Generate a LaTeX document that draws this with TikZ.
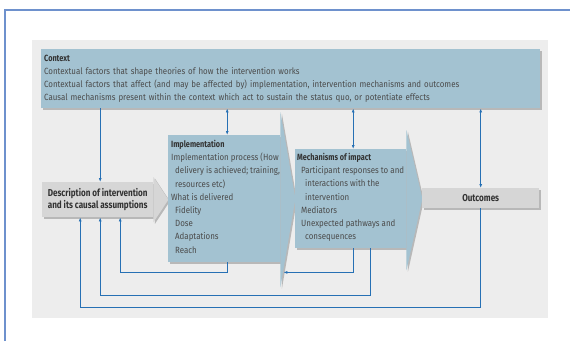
\documentclass[tikz,border=0pt]{standalone}
\usepackage{fontspec}
\setmainfont{Fira Sans}[FakeStretch=0.88, BoldFeatures={FakeStretch=0.81}]
\usepackage{tikz}
\usetikzlibrary{calc,positioning,shadows,arrows.meta}
\definecolor{myblue}{RGB}{163,194,209}
\definecolor{mygrey}{RGB}{214,214,214}
\definecolor{mypanel}{RGB}{237,237,237}
\definecolor{myline}{RGB}{38,112,180}
\definecolor{myframe}{RGB}{110,145,205}
\definecolor{mytext}{RGB}{75,75,75}
\definecolor{myhead}{RGB}{50,50,50}

\begin{document}
\begin{tikzpicture}[
  x=1pt,
  y=-1pt,
  font=\fontsize{9}{13.2}\selectfont,
  myshadow/.style={
    drop shadow={shadow xshift=1.5pt,shadow yshift=-1.5pt,fill=black,opacity=.22}
    },
  mybox/.style={
    fill=#1,
    myshadow,
    inner sep=0pt,
    anchor=north west
    },
  mytxt/.style={
    align=left,
    inner sep=0pt,
    anchor=north west,
    text=mytext
    },
  myarrow/.style={
    draw=myline,
    line width=0.9pt,
    >={Latex[length=4pt,width=3pt]}
    }
]

\useasboundingbox (0,0) rectangle (570,341);
\draw[myframe, line width=1.2pt] (5,341) -- (5,10) -- (570,10);
\fill[mypanel] (32,40) rectangle (548,318);

\node[mybox=myblue, minimum width=499pt, minimum height=59pt,
  text width=493pt, inner xsep=3pt, align=left, text=mytext,
  font=\fontsize{9}{13}\selectfont]
  (context) at (41,49)
  {
  {\bfseries\color{myhead}Context}\\
  Contextual factors that shape theories of how the intervention works\\
  Contextual factors that  affect (and may be affected by) implementation, intervention mechanisms and outcomes\\
  Causal mechanisms present within the context which act to sustain the status quo, or potentiate effects
  };

\node[mybox=mygrey, minimum width=111pt, minimum height=35pt,
  align=center, font=\bfseries, text=myhead]
  (desc) at (42,182)
  {Description of intervention\\and its causal assumptions};
\fill[mygrey, myshadow] (desc.north east) -- ++(0,-5)
  -- ($(desc.east)+(15,0)$) -- ($(desc.south east)+(0,5)$)
  -- (desc.south east) -- cycle;

\node[mybox=myblue, minimum width=112pt, minimum height=127pt]
  (impl) at (168,135) {};
\fill[myblue, myshadow] (impl.north east) -- ++(0,-23)
  -- ($(impl.east)+(15,0)$) -- ($(impl.south east)+(0,25)$)
  -- (impl.south east) -- cycle;
\node[mytxt] (impltext) at ([shift={(3,5)}]impl.north west)
  {
  {\bfseries\color{myhead}Implementation}\\
  Implementation process (How\\
  \hspace*{4pt}delivery is achieved; training,\\
  \hspace*{4pt}resources etc)\\
  What is delivered\\
  \hspace*{4pt}Fidelity\\
  \hspace*{4pt}Dose\\
  \hspace*{4pt}Adaptations\\
  \hspace*{4pt}Reach
  };

\node[mybox=myblue, minimum width=111pt, minimum height=99pt]
  (mech) at (295,149) {};
\fill[myblue, myshadow] (mech.north east) -- ++(0,-19)
  -- ($(mech.east)+(16,0)$) -- ($(mech.south east)+(0,22)$)
  -- (mech.south east) -- cycle;
\node[mytxt] (mechtext) at ([shift={(2,4)}]mech.north west)
  {
  {\bfseries\color{myhead}Mechanisms of impact}\\
  \hspace*{4pt}Participant responses to and\\
  \hspace*{8pt}interactions with the\\
  \hspace*{8pt}intervention\\
  \hspace*{4pt}Mediators\\
  \hspace*{4pt}Unexpected pathways and\\
  \hspace*{8pt}consequences
  };

\node[mybox=mygrey, minimum width=117pt, minimum height=20pt,
  font=\bfseries, text=myhead]
  (outc) at (422,188) {Outcomes};

\draw[myarrow,->] ([xshift=2.5pt]desc.north |- context.south) -- ([xshift=2.5pt]desc.north);
\draw[myarrow,<->] ([xshift=3pt]impl.north |- context.south) -- ([xshift=3pt]impl.north);
\draw[myarrow,<->] ([xshift=2.5pt]mech.north |- context.south) -- ([xshift=2.5pt]mech.north);
\draw[myarrow,<->] (outc.north |- context.south) -- (outc.north);

\draw[myarrow,->] ([xshift=3pt]impl.south) -- ++(0,10) -| ([xshift=22.5pt]desc.south);
\draw[myarrow,->] ([xshift=2.5pt]mech.south) |- ([xshift=3pt,yshift=-10pt]impl.south east);
\draw[myarrow,->] ([xshift=20pt]mech.south) -- ++(0,47) -| ([xshift=2.5pt]desc.south);
\draw[myarrow,->] (outc.south) -- ++(0,99) -| ([xshift=-17.5pt]desc.south);

\end{tikzpicture}
\end{document}
